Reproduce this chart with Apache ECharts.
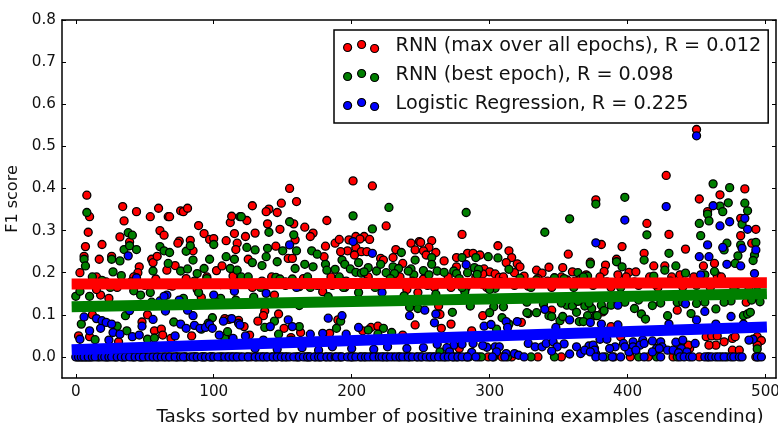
<!DOCTYPE html>
<html><head><meta charset="utf-8">
<style>html,body{margin:0;padding:0;background:#fff}#c{width:778px;height:423px}</style>
<script src="https://cdn.jsdelivr.net/npm/echarts@6/dist/echarts.min.js"></script>
</head><body><div id="c"></div>
<script>
const xTicks=[0,100,200,300,400,500];
const yTicks=[0,0.1,0.2,0.3,0.4,0.5,0.6,0.7,0.8];
const seriesNames=['RNN (max over all epochs), R = 0.012','RNN (best epoch), R = 0.098','Logistic Regression, R = 0.225'];
const redFit=[[-3,.173],[501,.176]];
const greenFit=[[-3,.119],[501,.150]];
const blueFit=[[-3,.017],[501,.071]];

const redPoints=[[8,.384],[10,.333],[9,.296],[7,.262],[6,.239],[3,.2],[34,.357],[35,.323],[32,.285],[44,.345],[54,.333],[60,.353],[67,.333],[68,.333],[76,.347],[78,.345],[81,.353],[61,.3],[64,.289],[89,.312],[93,.293],[97,.279],[100,.281],[109,.276],[112,.319],[113,.334],[115,.293],[117,.27],[116,.255],[19,.267],[26,.239],[17,.232],[39,.273],[75,.275],[74,.27],[83,.277],[85,.252],[55,.232],[56,.224],[59,.239],[46,.214],[45,.2],[66,.206],[72,.217],[102,.205],[106,.216],[114,.192],[18,.147],[24,.139],[15,.16],[2,.05],[12,.1],[10,.048],[48,.083],[52,.1],[57,.062],[62,.066],[63,.052],[31,.036],[69,.044],[84,.05],[91,.141],[108,.091],[111,.089],[118,.087],
[155,.4],[128,.359],[149,.365],[160,.369],[140,.351],[138,.345],[146,.343],[124,.324],[139,.316],[158,.316],[148,.303],[166,.308],[182,.324],[201,.418],[215,.406],[225,.311],[123,.286],[130,.294],[172,.294],[170,.286],[145,.263],[159,.278],[181,.263],[188,.27],[191,.279],[198,.278],[203,.286],[209,.286],[206,.28],[213,.279],[203,.26],[197,.252],[192,.25],[207,.25],[211,.25],[202,.242],[180,.238],[154,.234],[157,.234],[125,.232],[221,.234],[223,.23],[230,.236],[232,.255],[237,.222],[243,.27],[249,.274],[246,.254],[144,.147],[179,.155],[137,.109],[136,.098],[147,.102],[132,.085],[151,.068],[190,.088],[163,.058],[126,.052],[184,.056],[208,.062],[214,.07],[219,.073],[246,.076],[248,.153],[122,.072],[156,.046],[237,.052],
[250,.272],[258,.276],[256,.26],[252,.252],[254,.242],[261,.248],[280,.291],[267,.228],[284,.246],[288,.246],[293,.242],[276,.236],[306,.264],[314,.252],[316,.236],[312,.224],[320,.221],[322,.214],[318,.2],[276,.214],[296,.209],[300,.202],[295,.197],[304,.197],[307,.189],[334,.206],[338,.199],[343,.213],[353,.212],[360,.202],[357,.244],[325,.192],[347,.187],[356,.183],[272,.165],[263,.121],[264,.101],[295,.098],[272,.078],[265,.068],[323,.082],[287,.062],[278,.02],[345,.111],[373,.225],
[377,.373],[428,.431],[467,.385],[452,.375],[485,.399],[458,.345],[482,.329],[414,.317],[430,.291],[381,.267],[396,.262],[412,.246],[442,.256],[482,.288],[493,.303],[490,.27],[384,.218],[383,.203],[392,.232],[393,.195],[401,.201],[406,.202],[419,.216],[427,.216],[438,.195],[455,.216],[463,.222],[465,.193],[436,.111],[486,.13],[382,.107],[388,.072],[395,.048],[445,.02],[457,.048],[461,.05],[465,.05],[470,.036],[464,.028],[459,.028],[476,.044],[478,.048],[476,.016],[481,.016],[494,.048],[497,.039],[494,.028],[438,.024],[444,.028],[450,.54],
[15,.19],[22,.178],[30,.165],[42,.19],[50,.17],[58,.185],[70,.168],[80,.186],[88,.16],[95,.19],[105,.172],[120,.185],[128,.165],[135,.18],[142,.19],[152,.17],[165,.186],[175,.17],[185,.19],[195,.165],[212,.19],[222,.168],[235,.19],[240,.16],[252,.185],[260,.165],[270,.19],[283,.165],[290,.19],[298,.165],[310,.19],[328,.168],[335,.186],[345,.165],[352,.19],[362,.18],[370,.195],[380,.19],[388,.165],[399,.19],[408,.17],[416,.19],[422,.165],[432,.19],[440,.166],[448,.19],[460,.165],[468,.19],[478,.166],[488,.165]];

const greenPoints=[[8,.343],[6,.232],[7,.216],[19,.182],[27,.202],[26,.232],[32,.228],[33,.193],[35,.255],[39,.264],[38,.295],[41,.289],[44,.255],[61,.262],[64,.252],[68,.248],[56,.204],[67,.222],[76,.204],[81,.209],[80,.251],[83,.264],[85,.23],[88,.198],[93,.21],[97,.232],[95,.186],[100,.267],[109,.238],[112,.21],[115,.232],[117,.206],[119,.333],[0,.144],[3,.156],[10,.144],[42,.157],[47,.147],[54,.153],[89,.153],[4,.078],[36,.098],[37,.062],[14,.041],[30,.073],[52,.042],[57,.045],[71,.083],[78,.139],[99,.093],[96,.08],[91,.066],[108,.044],[110,.06],[116,.135],[105,.139],
[120,.333],[155,.321],[140,.296],[158,.29],[201,.335],[227,.355],[215,.304],[124,.26],[130,.254],[139,.258],[138,.238],[150,.252],[160,.252],[171,.252],[175,.244],[128,.224],[135,.217],[146,.226],[166,.22],[159,.21],[172,.214],[181,.22],[182,.206],[188,.208],[193,.23],[195,.22],[199,.209],[203,.201],[207,.199],[212,.212],[209,.202],[205,.224],[218,.204],[221,.22],[225,.2],[230,.214],[234,.21],[231,.198],[236,.248],[243,.209],[246,.23],[245,.195],[241,.204],[120,.19],[125,.19],[145,.189],[148,.185],[157,.185],[191,.19],[170,.165],[162,.167],[194,.165],[183,.143],[205,.153],[238,.145],[242,.118],[248,.115],[129,.142],[162,.122],[189,.068],[192,.085],[137,.07],[144,.085],[147,.054],[156,.04],[162,.072],[223,.068],[219,.054],[229,.058],[212,.064],
[283,.343],[340,.296],[358,.328],[258,.236],[258,.22],[262,.204],[267,.201],[252,.205],[256,.195],[274,.204],[276,.198],[280,.236],[290,.236],[299,.238],[306,.235],[284,.2],[289,.212],[292,.208],[291,.196],[314,.208],[364,.2],[373,.221],[371,.192],[278,.186],[304,.163],[282,.155],[261,.149],[273,.106],[286,.121],[303,.119],[310,.119],[300,.105],[309,.093],[305,.066],[314,.078],[328,.103],[334,.105],[327,.105],[343,.098],[345,.096],[351,.086],[353,.096],[356,.123],[360,.121],[363,.106],[365,.084],[369,.121],[371,.098],[374,.115],[368,.084],[377,.098],[264,.012],
[377,.363],[398,.379],[462,.411],[474,.402],[467,.358],[473,.366],[485,.365],[487,.347],[469,.345],[458,.339],[459,.323],[452,.317],[483,.315],[414,.29],[453,.288],[430,.246],[412,.23],[392,.226],[396,.214],[427,.206],[435,.216],[419,.192],[442,.199],[463,.203],[456,.195],[472,.27],[470,.254],[480,.24],[478,.222],[482,.266],[493,.272],[492,.242],[491,.229],[496,.131],[475,.133],[464,.114],[450,.127],[436,.13],[446,.103],[429,.098],[418,.122],[410,.102],[413,.09],[405,.115],[388,.123],[381,.123],[383,.11],[378,.098],[484,.098],[487,.102],[489,.106],[494,.019],
[12,.19],[25,.165],[40,.178],[55,.13],[68,.17],[74,.125],[86,.18],[102,.13],[113,.17],[126,.175],[134,.165],[152,.178],[168,.19],[178,.172],[186,.17],[196,.18],[210,.178],[217,.165],[228,.186],[244,.18],[255,.17],[268,.175],[280,.165],[295,.172],[308,.178],[318,.17],[330,.165],[342,.18],[350,.175],[366,.185],[375,.17],[385,.178],[395,.165],[405,.178],[420,.172],[431,.18],[440,.13],[450,.17],[459,.175],[470,.13],[477,.165],[490,.135],[494,.17],[300,.16],
[322,.187],[334,.183],[347,.188],[354,.186],[361,.165],[368,.19],[327,.13],[339,.125],[352,.128],[364,.132],[372,.128],[398,.13],[408,.135],[424,.128],[456,.13]];

const bluePoints=[[38,.24],[44,.188],[6,.095],[3,.042],[10,.062],[15,.091],[19,.086],[22,.082],[26,.078],[18,.068],[27,.058],[32,.054],[24,.04],[41,.048],[46,.052],[48,.073],[56,.089],[39,.11],[61,.133],[66,.147],[64,.144],[65,.109],[72,.05],[76,.078],[80,.068],[85,.098],[86,.075],[90,.068],[94,.07],[97,.077],[99,.068],[100,.147],[104,.052],[107,.085],[113,.091],[118,.08],[115,.156],[75,.135],[81,.111],[114,.044],
[155,.266],[201,.274],[215,.246],[138,.151],[160,.165],[222,.153],[183,.092],[193,.098],[242,.098],[154,.088],[141,.072],[157,.072],[205,.07],[119,.076],[123,.05],[170,.054],[179,.056],[196,.054],[136,.04],
[283,.219],[253,.111],[261,.102],[260,.081],[296,.073],[301,.077],[312,.084],[320,.084],[313,.07],[340,.113],[358,.088],[377,.271],[373,.082],[348,.07],[298,.023],[274,.028],[269,.022],[271,.012],[287,.011],[304,.024],[307,.024],[305,.012],[312,.008],[318,.008],[321,.004],[328,.032],[333,.024],[338,.024],[341,.032],[346,.036],[354,.031],[349,.024],[345,.014],[358,.007],[363,.024],[366,.008],[372,.026],[376,.02],[369,.016],[377,.007],[288,.032],[295,.027],
[398,.325],[428,.357],[462,.359],[474,.321],[485,.329],[467,.311],[487,.303],[458,.266],[469,.26],[483,.258],[493,.254],[452,.238],[459,.238],[472,.22],[482,.216],[453,.195],[492,.198],[442,.126],[456,.108],[475,.096],[450,.088],[430,.078],[464,.078],[484,.078],[393,.123],[381,.078],[393,.076],[491,.042],[488,.04],[449,.032],[435,.035],[440,.04],[424,.036],[418,.038],[411,.04],[404,.036],[397,.032],[391,.024],[387,.02],[380,.042],[385,.042],[375,.028],[404,.024],[409,.028],[412,.032],[401,.012],[406,.016],[398,.024],[425,.024],[421,.02],[418,.012],[423,.02],[429,.016],[433,.016],[439,.02],[443,.012],[437,.01],[376,.016],[373,.012],[450,.525],
[130,.02],[146,.018],[164,.022],[176,.016],[186,.024],[200,.02],[216,.018],[226,.024],[240,.02],[252,.022],[262,.03],[280,.03]];

const blueZeroX=[0,2,4,6,9,12,14,19,21,24,26,30,33,36,39,43,46,49,53,56,59,62,65,68,72,76,78,83,85,88,91,94,97,100,103,108,111,114,117,121,125,130,133,136,139,143,146,149,152,155,158,162,165,168,170,173,176,178,182,185,188,189,193,197,200,203,207,210,212,216,220,222,225,228,232,235,237,241,244,248,251,254,257,260,263,267,270,273,277,280,284,290,302,311,325,377,382,389,395,412,424,438,441,445,447,456,459,461,464,466,470,475,477,481,483,494,497];
const redZeroX=[1,5,8,11,16,23,28,35,41,47,51,58,64,70,74,80,87,93,99,106,113,119,127,135,142,150,160,167,174,181,191,199,206,214,223,230,239,247,256,265,274,283,292,299,309,316,335,352,390,402,415,433,452,468,493];
const greenZeroX=[3,7,10,17,22,29,34,42,48,55,60,67,73,79,86,92,98,105,110,116,124,131,138,145,153,161,169,177,184,192,201,209,218,226,234,242,250,259,268,276,285,294,303,313,330,347,384,408,421,436,458,472,495];

const redData=redPoints.concat(redZeroX.map(x=>[x,0]));
const greenData=greenPoints.concat(greenZeroX.map(x=>[x,0]));
const blueData=bluePoints.concat(blueZeroX.map(x=>[x,0]));

const txt='#111';
const font='DejaVu Sans';
const threeDots='path://M0,7a4,4,0,1,0,8,0a4,4,0,1,0,-8,0Z M14,4a4,4,0,1,0,8,0a4,4,0,1,0,-8,0Z M27,8a4,4,0,1,0,8,0a4,4,0,1,0,-8,0Z';
const line={show:true,lineStyle:{color:'#000',width:1.5}};
const scatter=(name,data,color)=>({name,type:'scatter',data,symbolSize:8,xAxisIndex:0,yAxisIndex:0,itemStyle:{color,borderColor:'#000',borderWidth:1.3,opacity:1},emphasis:{disabled:true},silent:true,animation:false,clip:false});
const fit=(data,color)=>({type:'line',data,symbol:'none',lineStyle:{color,width:11,cap:'butt'},silent:true,animation:false,z:3});
const chart=echarts.init(document.getElementById('c'),null,{renderer:'canvas'});
chart.setOption({
  animation:false,
  backgroundColor:'#fff',
  textStyle:{fontFamily:font,color:txt},
  grid:{left:62,right:2,top:20,bottom:45,containLabel:false,outerBoundsMode:'none'},
  legend:{
    data:seriesNames,orient:'vertical',left:334,top:30,padding:[5,7,7,9],itemGap:6,
    itemWidth:35,itemHeight:12,icon:threeDots,backgroundColor:'#fff',borderColor:'#000',borderWidth:1.5,borderRadius:0,
    itemStyle:{borderColor:'#000',borderWidth:1.2},
    textStyle:{fontFamily:font,fontSize:19.2,color:txt,padding:[0,0,0,12],lineHeight:23},
    selectedMode:false,z:10
  },
  xAxis:[
    {type:'value',min:-10,max:507.6,position:'bottom',axisLine:{...line,onZero:false},splitLine:{show:false},
     axisTick:{show:true,inside:true,length:4,lineStyle:{color:'#000',width:1},customValues:xTicks},
     axisLabel:{show:true,fontSize:15.2,color:txt,margin:7,fontFamily:font,customValues:xTicks,showMinLabel:true,showMaxLabel:true},
     name:'Tasks sorted by number of positive training examples (ascending)',nameLocation:'middle',nameGap:30,
     nameTextStyle:{fontFamily:font,fontSize:18.4,color:txt,padding:[0,0,0,82]}},
    {type:'value',min:-10,max:507.6,position:'top',axisLine:{...line,onZero:false},splitLine:{show:false},
     axisTick:{show:true,inside:true,length:4,lineStyle:{color:'#000',width:1},customValues:xTicks},axisLabel:{show:false}}
  ],
  yAxis:[
    {type:'value',min:-0.05,max:0.8,position:'left',axisLine:{...line,onZero:false},splitLine:{show:false},
     axisTick:{show:true,inside:true,length:4,lineStyle:{color:'#000',width:1},customValues:yTicks},
     axisLabel:{show:true,fontSize:15.2,color:txt,margin:6,fontFamily:font,customValues:yTicks,formatter:v=>v.toFixed(1)},
     name:'F1 score',nameLocation:'middle',nameGap:36,nameRotate:90,
     nameTextStyle:{fontFamily:font,fontSize:16,color:txt}},
    {type:'value',min:-0.05,max:0.8,position:'right',axisLine:{...line,onZero:false},splitLine:{show:false},
     axisTick:{show:true,inside:true,length:4,lineStyle:{color:'#000',width:1},customValues:yTicks},axisLabel:{show:false}}
  ],
  series:[
    scatter(seriesNames[0],redData,'#ff0000'),
    scatter(seriesNames[1],greenData,'#007f00'),
    scatter(seriesNames[2],blueData,'#0000ff'),
    fit(redFit,'#ff0000'),fit(greenFit,'#007f00'),fit(blueFit,'#0000ff')
  ]
});
</script></body></html>
